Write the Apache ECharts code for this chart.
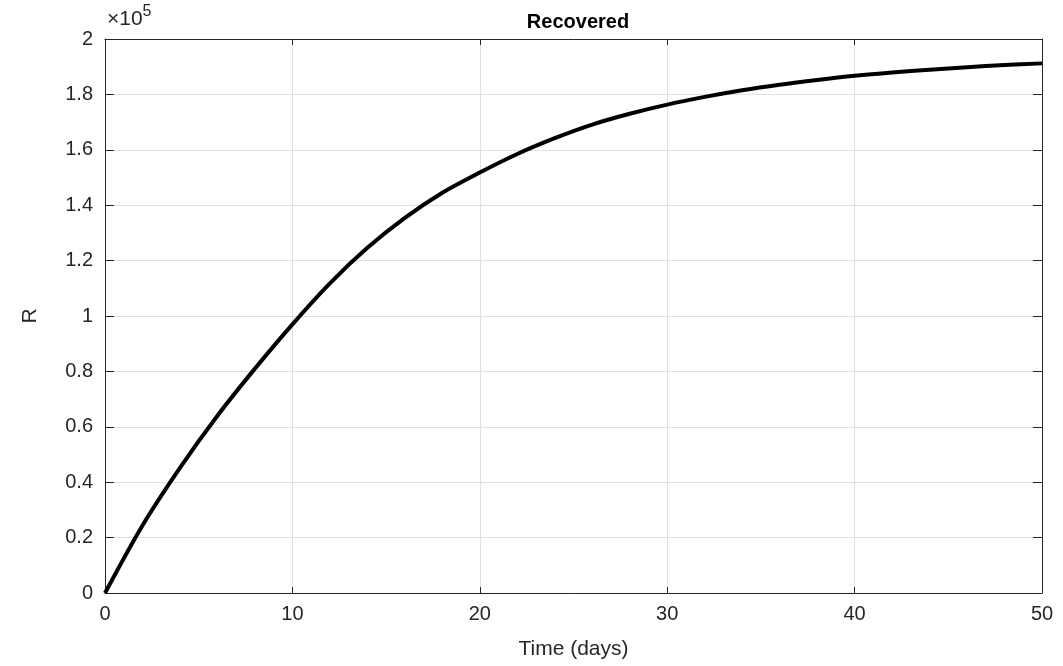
<!DOCTYPE html>
<html>
<head>
<meta charset="utf-8">
<script src="https://cdn.jsdelivr.net/npm/echarts@6/dist/echarts.min.js"></script>
<style>
html,body{margin:0;padding:0;background:#fff;}
#chart{width:1063px;height:666px;}
</style>
</head>
<body>
<div id="chart"></div>
<script>
// Time (days)
var days = [0, 2, 4, 6, 8, 10, 12, 14, 16, 18, 20, 22, 24, 26, 28, 30, 32, 34, 36, 38, 40, 42, 44, 46, 48, 50];
// Recovered R (people)
var recovered = [0, 24400, 45200, 64000, 81000, 97000, 111800, 124600, 135400, 144500, 151800, 158500, 164200, 169100, 173000, 176300, 179100, 181500, 183500, 185200, 186700, 187900, 188900, 189800, 190600, 191200];
var xTicks = [0, 10, 20, 30, 40, 50];
var yTickStep = 20000;
var yMax = 200000;
var exponent = 5;

var points = days.map(function (d, i) { return [d, recovered[i]]; });

var font = "'Liberation Sans', Arial, Helvetica, sans-serif";
var axisColor = '#262626';
var gridColor = '#e0e0e0';

var chart = echarts.init(document.getElementById('chart'));
chart.setOption({
  animation: false,
  backgroundColor: '#ffffff',
  title: {
    text: 'Recovered',
    left: 573, top: 7, textAlign: 'center',
    textStyle: { fontFamily: font, fontSize: 20, fontWeight: 'bold', color: '#000' }
  },
  graphic: [{
    type: 'text', left: 107, top: 4,
    style: {
      text: '{a|×10}{b|' + exponent + '}',
      rich: {
        a: { fontFamily: font, fontSize: 21, fill: axisColor, verticalAlign: 'bottom', lineHeight: 26 },
        b: { fontFamily: font, fontSize: 16, fill: axisColor, verticalAlign: 'top', lineHeight: 26, padding: [0, 0, 10, 0] }
      }
    }
  }],
  grid: { left: 105, right: 21, top: 39, bottom: 73, containLabel: false },
  xAxis: [{
    type: 'value', min: xTicks[0], max: xTicks[xTicks.length - 1], interval: 10,
    name: 'Time (days)', nameLocation: 'middle', nameGap: 46,
    nameTextStyle: { fontFamily: font, fontSize: 21, color: axisColor },
    axisLine: { show: true, onZero: false, lineStyle: { color: axisColor, width: 1 } },
    axisTick: { show: true, inside: true, length: 6, lineStyle: { color: axisColor } },
    axisLabel: { fontFamily: font, fontSize: 20, color: axisColor, margin: 11 },
    splitLine: { show: true, lineStyle: { color: gridColor, width: 1 } }
  }, {
    type: 'value', position: 'top', min: xTicks[0], max: xTicks[xTicks.length - 1], interval: 10,
    axisLine: { show: true, onZero: false, lineStyle: { color: axisColor, width: 1 } },
    axisTick: { show: true, inside: true, length: 6, lineStyle: { color: axisColor } },
    axisLabel: { show: false }, splitLine: { show: false }
  }],
  yAxis: [{
    type: 'value', min: 0, max: yMax, interval: yTickStep,
    name: 'R', nameLocation: 'middle', nameGap: 64,
    nameTextStyle: { fontFamily: font, fontSize: 21, color: axisColor },
    axisLine: { show: true, onZero: false, lineStyle: { color: axisColor, width: 1 } },
    axisTick: { show: true, inside: true, length: 9, lineStyle: { color: axisColor } },
    axisLabel: {
      fontFamily: font, fontSize: 20, color: axisColor, margin: 12,
      formatter: function (v) { return String(+(v / Math.pow(10, exponent)).toFixed(1)); }
    },
    splitLine: { show: true, lineStyle: { color: gridColor, width: 1 } }
  }, {
    type: 'value', position: 'right', min: 0, max: yMax, interval: yTickStep,
    axisLine: { show: true, onZero: false, lineStyle: { color: axisColor, width: 1 } },
    axisTick: { show: true, inside: true, length: 9, lineStyle: { color: axisColor } },
    axisLabel: { show: false }, splitLine: { show: false }
  }],
  series: [{
    type: 'line', data: points, smooth: 0.3, showSymbol: false,
    xAxisIndex: 0, yAxisIndex: 0,
    lineStyle: { color: '#000', width: 4 },
    clip: false
  }]
});
</script>
</body>
</html>
